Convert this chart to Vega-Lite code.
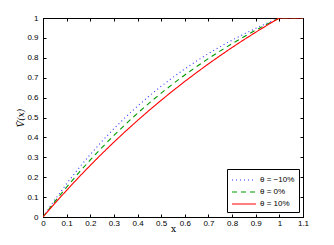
{
  "$schema": "https://vega.github.io/schema/vega-lite/v6.json",
  "width": 260,
  "height": 199,
  "autosize": "none",
  "padding": {"left": 43, "top": 18, "right": 31, "bottom": 28},
  "background": "white",
  "config": {
    "view": {"stroke": "black", "strokeWidth": 1},
    "axis": {
      "grid": false,
      "domainColor": "black",
      "tickColor": "black",
      "labelColor": "black",
      "labelFont": "Liberation Sans",
      "labelFontSize": 8,
      "titleColor": "black",
      "tickSize": -3,
      "labelFlush": false,
      "labelOverlap": false
    },
    "legend": {
      "labelFont": "Liberation Sans",
      "labelFontSize": 8,
      "labelColor": "black"
    }
  },
  "data": {
    "values": [
      {"x": 0, "v": 0, "s": "θ = −10%"},
      {"x": 0.05, "v": 0.0865, "s": "θ = −10%"},
      {"x": 0.1, "v": 0.1676, "s": "θ = −10%"},
      {"x": 0.15, "v": 0.2435, "s": "θ = −10%"},
      {"x": 0.2, "v": 0.3147, "s": "θ = −10%"},
      {"x": 0.25, "v": 0.3814, "s": "θ = −10%"},
      {"x": 0.3, "v": 0.4439, "s": "θ = −10%"},
      {"x": 0.35, "v": 0.5025, "s": "θ = −10%"},
      {"x": 0.4, "v": 0.5574, "s": "θ = −10%"},
      {"x": 0.45, "v": 0.6088, "s": "θ = −10%"},
      {"x": 0.5, "v": 0.657, "s": "θ = −10%"},
      {"x": 0.55, "v": 0.7022, "s": "θ = −10%"},
      {"x": 0.6, "v": 0.7445, "s": "θ = −10%"},
      {"x": 0.65, "v": 0.7841, "s": "θ = −10%"},
      {"x": 0.7, "v": 0.8213, "s": "θ = −10%"},
      {"x": 0.75, "v": 0.8561, "s": "θ = −10%"},
      {"x": 0.8, "v": 0.8888, "s": "θ = −10%"},
      {"x": 0.85, "v": 0.9193, "s": "θ = −10%"},
      {"x": 0.9, "v": 0.948, "s": "θ = −10%"},
      {"x": 0.95, "v": 0.9749, "s": "θ = −10%"},
      {"x": 1, "v": 1, "s": "θ = −10%"},
      {"x": 1.1, "v": 1, "s": "θ = −10%"},
      {"x": 0, "v": 0, "s": "θ = 0%"},
      {"x": 0.05, "v": 0.0772, "s": "θ = 0%"},
      {"x": 0.1, "v": 0.1505, "s": "θ = 0%"},
      {"x": 0.15, "v": 0.2204, "s": "θ = 0%"},
      {"x": 0.2, "v": 0.2868, "s": "θ = 0%"},
      {"x": 0.25, "v": 0.3499, "s": "θ = 0%"},
      {"x": 0.3, "v": 0.41, "s": "θ = 0%"},
      {"x": 0.35, "v": 0.4672, "s": "θ = 0%"},
      {"x": 0.4, "v": 0.5215, "s": "θ = 0%"},
      {"x": 0.45, "v": 0.5733, "s": "θ = 0%"},
      {"x": 0.5, "v": 0.6225, "s": "θ = 0%"},
      {"x": 0.55, "v": 0.6693, "s": "θ = 0%"},
      {"x": 0.6, "v": 0.7138, "s": "θ = 0%"},
      {"x": 0.65, "v": 0.7561, "s": "θ = 0%"},
      {"x": 0.7, "v": 0.7964, "s": "θ = 0%"},
      {"x": 0.75, "v": 0.8347, "s": "θ = 0%"},
      {"x": 0.8, "v": 0.8711, "s": "θ = 0%"},
      {"x": 0.85, "v": 0.9058, "s": "θ = 0%"},
      {"x": 0.9, "v": 0.9388, "s": "θ = 0%"},
      {"x": 0.95, "v": 0.9702, "s": "θ = 0%"},
      {"x": 1, "v": 1, "s": "θ = 0%"},
      {"x": 1.1, "v": 1, "s": "θ = 0%"},
      {"x": 0, "v": 0, "s": "θ = 10%"},
      {"x": 0.05, "v": 0.0683, "s": "θ = 10%"},
      {"x": 0.1, "v": 0.1343, "s": "θ = 10%"},
      {"x": 0.15, "v": 0.198, "s": "θ = 10%"},
      {"x": 0.2, "v": 0.2595, "s": "θ = 10%"},
      {"x": 0.25, "v": 0.3189, "s": "θ = 10%"},
      {"x": 0.3, "v": 0.3763, "s": "θ = 10%"},
      {"x": 0.35, "v": 0.4317, "s": "θ = 10%"},
      {"x": 0.4, "v": 0.4851, "s": "θ = 10%"},
      {"x": 0.45, "v": 0.5368, "s": "θ = 10%"},
      {"x": 0.5, "v": 0.5866, "s": "θ = 10%"},
      {"x": 0.55, "v": 0.6348, "s": "θ = 10%"},
      {"x": 0.6, "v": 0.6813, "s": "θ = 10%"},
      {"x": 0.65, "v": 0.7261, "s": "θ = 10%"},
      {"x": 0.7, "v": 0.7695, "s": "θ = 10%"},
      {"x": 0.75, "v": 0.8113, "s": "θ = 10%"},
      {"x": 0.8, "v": 0.8518, "s": "θ = 10%"},
      {"x": 0.85, "v": 0.8908, "s": "θ = 10%"},
      {"x": 0.9, "v": 0.9285, "s": "θ = 10%"},
      {"x": 0.95, "v": 0.9649, "s": "θ = 10%"},
      {"x": 1, "v": 1, "s": "θ = 10%"},
      {"x": 1.1, "v": 1, "s": "θ = 10%"}
    ]
  },
  "layer": [
    {
      "mark": {"type": "line", "opacity": 0},
      "encoding": {
        "x": {
          "field": "x", "type": "quantitative",
          "scale": {"domain": [0, 1.1], "nice": false, "zero": false},
          "axis": {
            "orient": "top",
            "values": [0, 0.1, 0.2, 0.3, 0.4, 0.5, 0.6, 0.7, 0.8, 0.9, 1, 1.1],
            "labels": false,
            "title": null
          }
        },
        "y": {
          "field": "v", "type": "quantitative",
          "scale": {"domain": [0, 1], "nice": false},
          "axis": {
            "orient": "right",
            "values": [0, 0.1, 0.2, 0.3, 0.4, 0.5, 0.6, 0.7, 0.8, 0.9, 1],
            "labels": false,
            "title": null
          }
        },
        "detail": {"field": "s"}
      }
    },
    {
      "mark": {"type": "line", "strokeWidth": 1.1, "clip": true},
      "encoding": {
        "x": {
          "field": "x", "type": "quantitative",
          "scale": {"domain": [0, 1.1], "nice": false, "zero": false},
          "axis": {
            "orient": "bottom",
            "values": [0, 0.1, 0.2, 0.3, 0.4, 0.5, 0.6, 0.7, 0.8, 0.9, 1, 1.1],
            "labelExpr": "datum.value == 0 ? '0' : datum.value == 1 ? '1' : format(datum.value, '.1f')",
            "labelPadding": 5,
            "title": "x",
            "titleFont": "DejaVu Serif",
            "titleFontWeight": "normal",
            "titleFontSize": 9,
            "titlePadding": -3
          }
        },
        "y": {
          "field": "v", "type": "quantitative",
          "scale": {"domain": [0, 1], "nice": false},
          "axis": {
            "orient": "left",
            "values": [0, 0.1, 0.2, 0.3, 0.4, 0.5, 0.6, 0.7, 0.8, 0.9, 1],
            "labelExpr": "datum.value == 0 ? '0' : datum.value == 1 ? '1' : format(datum.value, '.1f')",
            "labelPadding": 8,
            "title": "V̄(x)",
            "titleFont": "DejaVu Serif",
            "titleFontStyle": "italic",
            "titleFontWeight": "normal",
            "titleFontSize": 9,
            "titlePadding": 1
          }
        },
        "color": {
          "field": "s", "type": "nominal",
          "scale": {"domain": ["θ = −10%", "θ = 0%", "θ = 10%"], "range": ["#3333ff", "#009900", "#ff0000"]},
          "legend": {
            "title": null,
            "orient": "none",
            "legendX": 184,
            "legendY": 151,
            "strokeColor": "black",
            "fillColor": "white",
            "padding": 4,
            "symbolType": "M-2,0H2",
            "symbolSize": 144,
            "symbolStrokeWidth": 1.2,
            "symbolOffset": 6,
            "rowPadding": 1,
            "labelOffset": 9
          }
        },
        "strokeDash": {
          "field": "s", "type": "nominal",
          "scale": {"domain": ["θ = −10%", "θ = 0%", "θ = 10%"], "range": [[1, 3], [5, 4], [1, 0]]},
          "legend": null
        },
        "order": {"field": "x"}
      }
    }
  ]
}
